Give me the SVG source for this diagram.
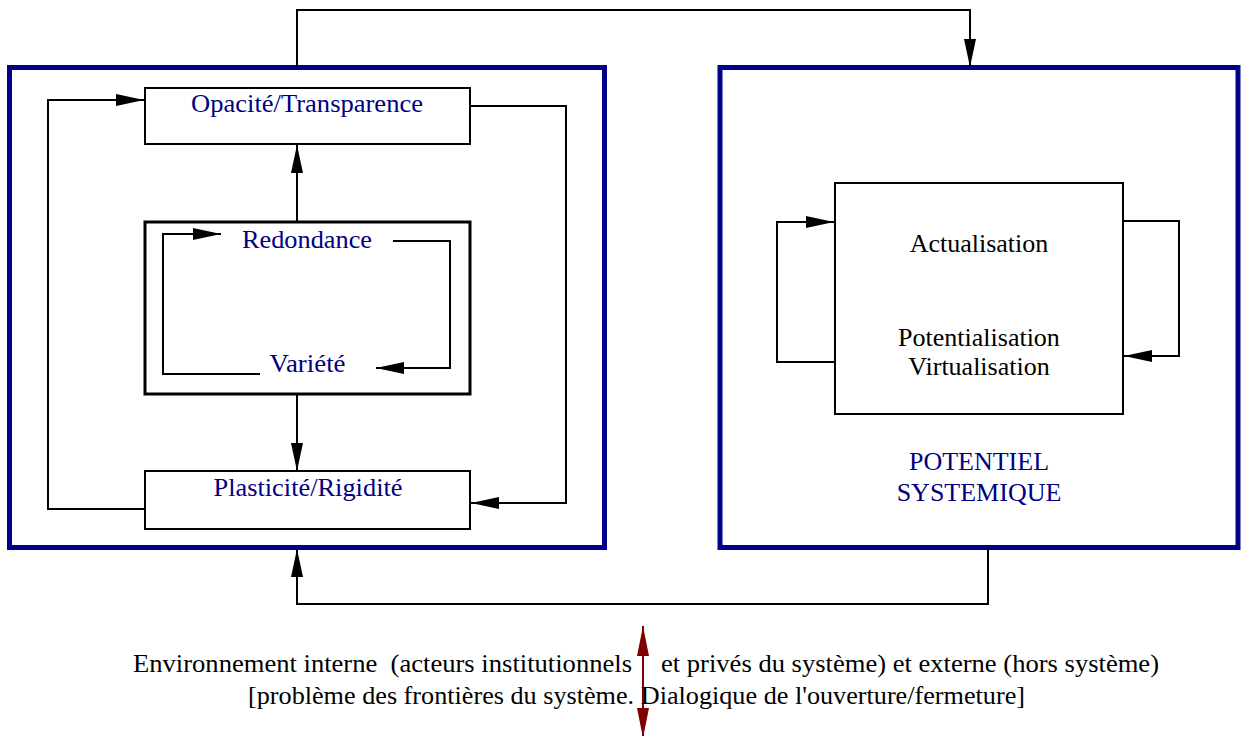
<svg xmlns="http://www.w3.org/2000/svg" width="1243" height="736" viewBox="0 0 1243 736">
<style>
.frame{fill:none;stroke:#000088;stroke-width:5}
.box{fill:#fff;stroke:#000;stroke-width:2}
.inner{fill:#fff;stroke:#000;stroke-width:3}
.c{fill:none;stroke:#000;stroke-width:2}
.t{font-family:"Liberation Serif","Times New Roman",serif;font-size:26px;fill:#000}
.b{fill:#000080}
.m{text-anchor:middle}
</style>
<defs>
<marker id="ah" markerUnits="userSpaceOnUse" markerWidth="28" markerHeight="12" refX="28" refY="6" orient="auto">
<path d="M0,0 L28,6 L0,12 z" fill="#000"/>
</marker>
<marker id="ahr" markerUnits="userSpaceOnUse" markerWidth="30" markerHeight="12" refX="30" refY="6" orient="auto">
<path d="M0,0 L30,6 L0,12 z" fill="#800000"/>
</marker>
</defs>
<g id="left-frame"><rect class="frame" x="9.5" y="67.5" width="595" height="480"/></g>
<g id="right-frame"><rect class="frame" x="720" y="67.5" width="518" height="480"/>
<text class="t b m" x="979" y="470">POTENTIEL</text>
<text class="t b m" x="979" y="501">SYSTEMIQUE</text>
</g>
<g id="opacite"><rect class="box" x="145" y="88" width="325" height="56"/>
<text class="t b m" x="307" y="112" textLength="232" lengthAdjust="spacingAndGlyphs">Opacité/Transparence</text></g>
<g id="plasticite"><rect class="box" x="145" y="471" width="325" height="58"/>
<text class="t b m" x="308" y="496" textLength="189" lengthAdjust="spacingAndGlyphs">Plasticité/Rigidité</text></g>
<g id="redondance-variete"><rect class="inner" x="145" y="222" width="325" height="172"/>
<text class="t b m" x="307" y="248" textLength="130" lengthAdjust="spacingAndGlyphs">Redondance</text>
<text class="t b m" x="307.5" y="372" textLength="76" lengthAdjust="spacingAndGlyphs">Variété</text></g>
<g id="actualisation"><rect class="box" x="835" y="183" width="288" height="231"/>
<text class="t m" x="979" y="252">Actualisation</text>
<text class="t m" x="979" y="346">Potentialisation</text>
<text class="t m" x="979" y="375">Virtualisation</text></g>
<g id="connectors">
<path class="c" d="M297,67 V10 H970 V67" marker-end="url(#ah)"/>
<path class="c" d="M988,547 V604 H297 V549" marker-end="url(#ah)"/>
<path class="c" d="M297,221 V145" marker-end="url(#ah)"/>
<path class="c" d="M297,395 V471" marker-end="url(#ah)"/>
<path class="c" d="M145,509 H48 V100 H144" marker-end="url(#ah)"/>
<path class="c" d="M470,106 H566 V503 H471" marker-end="url(#ah)"/>
<path class="c" d="M260,374 H163 V234 H221" marker-end="url(#ah)"/>
<path class="c" d="M393,241 H450 V368 H376" marker-end="url(#ah)"/>
<path class="c" d="M835,362 H777 V222 H834" marker-end="url(#ah)"/>
<path class="c" d="M1123,221 H1179 V356 H1124" marker-end="url(#ah)"/>
<path fill="none" stroke="#800000" stroke-width="2" d="M643,680 V626" marker-end="url(#ahr)"/>
<path fill="none" stroke="#800000" stroke-width="2" d="M643,680 V738" marker-end="url(#ahr)"/>
</g>
<g id="caption">
<text class="t" x="133" y="672" xml:space="preserve" textLength="499" lengthAdjust="spacingAndGlyphs">Environnement interne  (acteurs institutionnels</text>
<text class="t" x="661" y="672" textLength="498" lengthAdjust="spacingAndGlyphs">et privés du système) et externe (hors système)</text>
<text class="t" x="248" y="704" textLength="777" lengthAdjust="spacingAndGlyphs">[problème des frontières du système. Dialogique de l'ouverture/fermeture]</text>
</g>
</svg>
